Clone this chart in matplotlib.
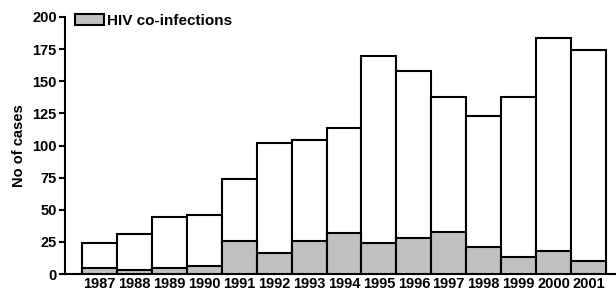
import matplotlib
matplotlib.use("Agg")
import matplotlib.pyplot as plt

years = ["1987", "1988", "1989", "1990", "1991", "1992", "1993", "1994",
         "1995", "1996", "1997", "1998", "1999", "2000", "2001"]
total_cases = [24, 31, 44, 46, 74, 102, 104, 114, 170, 158, 138, 123, 138, 184, 174]
hiv_cases = [5, 3, 5, 6, 26, 16, 26, 32, 24, 28, 33, 21, 13, 18, 10]

plt.rcParams['font.family'] = ['Liberation Sans', 'DejaVu Sans']
plt.rcParams['font.weight'] = 'bold'

fig = plt.figure(figsize=(6.16, 2.93), dpi=100)
ax = fig.add_axes([65/616, 1-274/293, 1-65/616, (274-17)/293])

x = list(range(len(years)))
ax.bar(x, total_cases, width=1.0, color='white', edgecolor='black', linewidth=1.5, zorder=2)
hb = ax.bar(x, hiv_cases, width=1.0, color='#c0c0c0', edgecolor='black', linewidth=1.5,
            zorder=3, label='HIV co-infections')

ax.set_xlim(-0.99, 14.79)
ax.set_ylim(0, 200)
ax.set_yticks([0, 25, 50, 75, 100, 125, 150, 175, 200])
ax.set_xticks(x)
ax.set_xticklabels(years, fontsize=10.5, fontweight='bold')
ax.tick_params(axis='x', length=0, pad=2)
ax.tick_params(axis='y', length=4, width=1.5, labelsize=10.5, pad=2)
for lab in ax.get_yticklabels():
    lab.set_fontweight('bold')

ax.spines['top'].set_visible(False)
ax.spines['right'].set_visible(False)
ax.spines['left'].set_linewidth(1.5)
ax.spines['bottom'].set_linewidth(1.5)

ax.set_ylabel('No of cases', fontsize=10.5, fontweight='bold', labelpad=4)

leg = ax.legend(handles=[hb], loc='upper left', bbox_to_anchor=(75/616, 1-14/293),
                bbox_transform=fig.transFigure, frameon=False, fontsize=11,
                handlelength=1.9, handleheight=0.75, handletextpad=0.2, borderaxespad=0,
                borderpad=0)
for t in leg.get_texts():
    t.set_fontweight('bold')

fig.savefig('out.png', dpi=100)
